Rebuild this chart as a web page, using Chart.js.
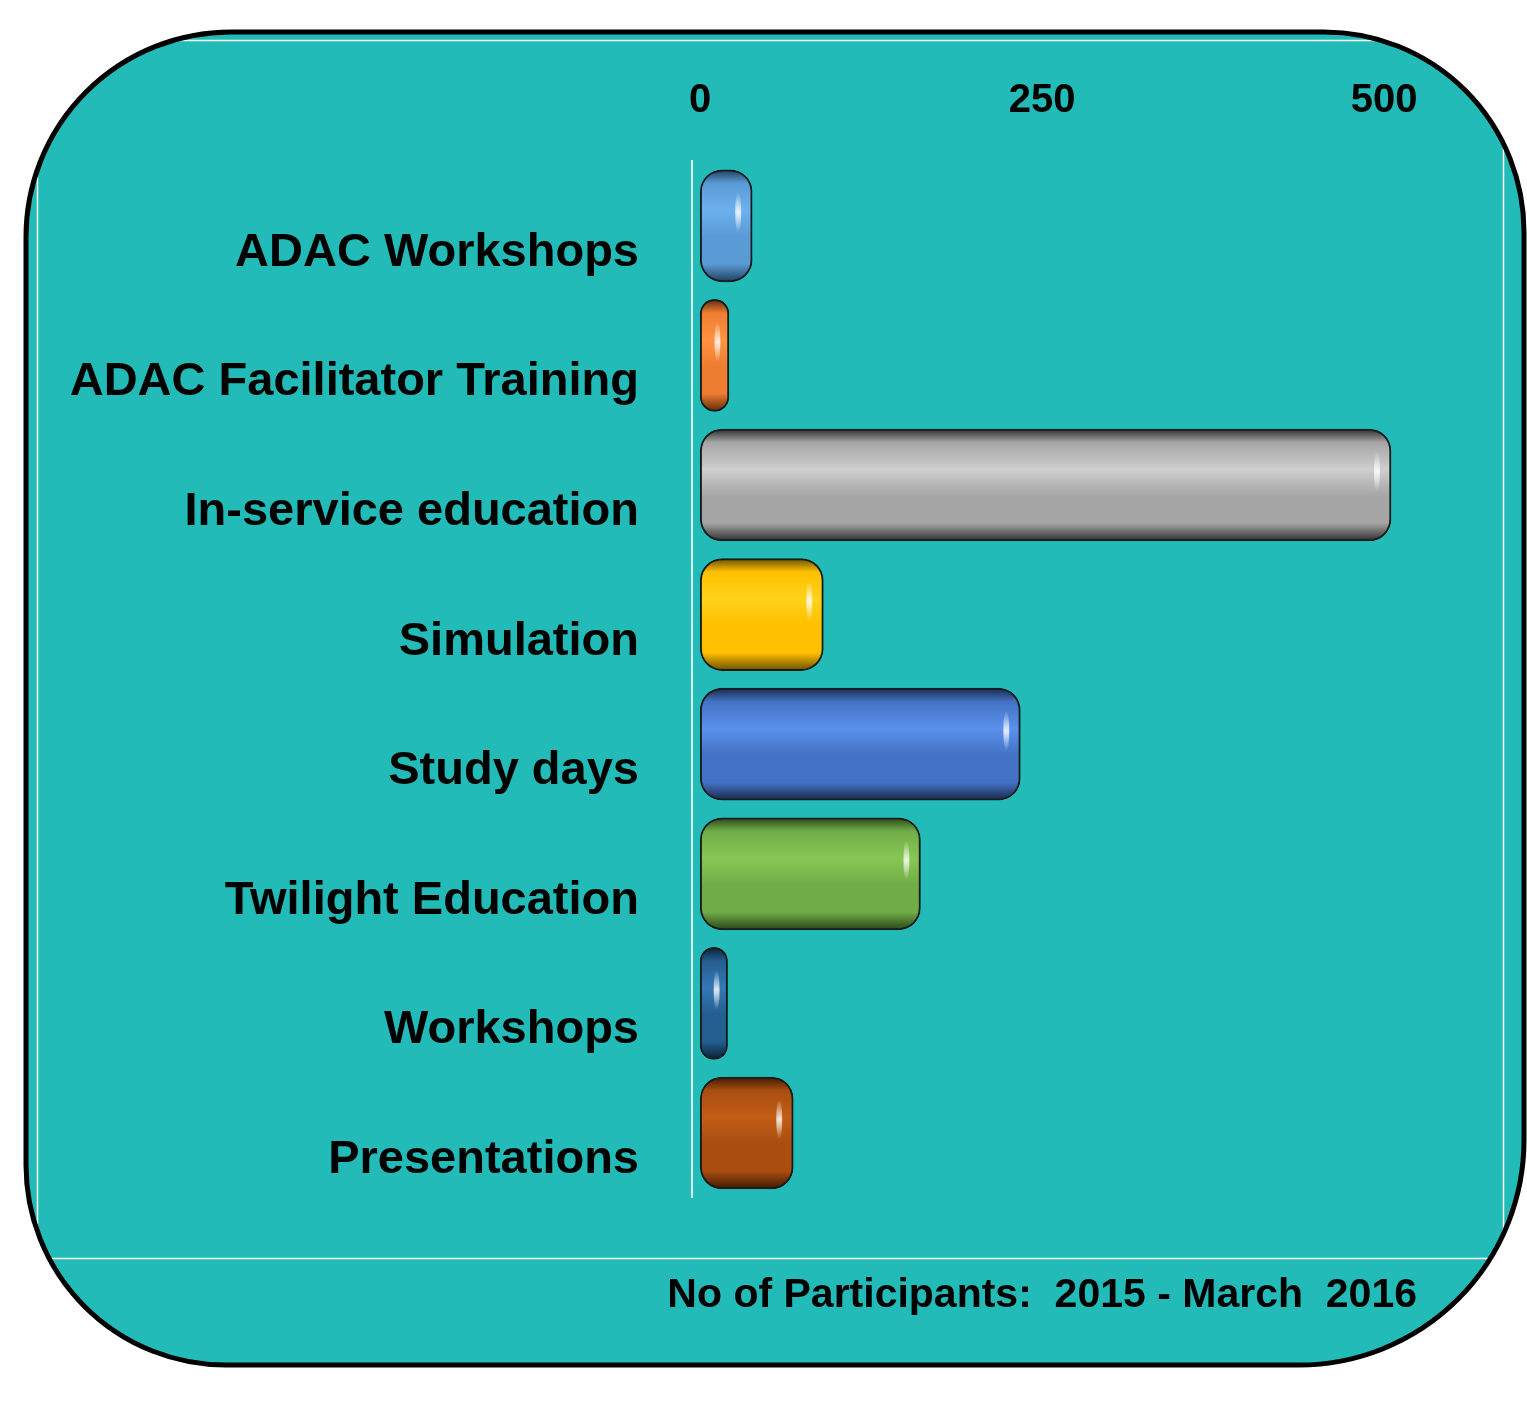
<!DOCTYPE html>
<html>
<head>
<meta charset="utf-8">
<script src="https://cdn.jsdelivr.net/npm/chart.js@4.4.1/dist/chart.umd.min.js"></script>
<style>
  html, body { margin: 0; padding: 0; background: #fff; }
  #wrap { width: 1527px; height: 1401px; }
</style>
</head>
<body>
<div id="wrap"><canvas id="myChart" width="1527" height="1401"></canvas></div>
<script>
const categories = [
  'ADAC Workshops',
  'ADAC Facilitator Training',
  'In-service education',
  'Simulation',
  'Study days',
  'Twilight Education',
  'Workshops',
  'Presentations'
];
const participants = [38, 21, 505, 90, 234, 161, 20, 68];
const xTicks = [0, 250, 500];
const footNote = 'No of Participants:  2015 - March  2016';

// per bar colours: base, highlight band, shadow edge
const barBase  = ['#5b9bd5', '#ed7d31', '#a5a5a5', '#ffc000', '#4472c4', '#70ad47', '#255e91', '#a94d10'];
const barLight = ['#6cb0ee', '#ff9340', '#cecece', '#ffd21a', '#5a91ec', '#88c655', '#3478b5', '#c25d17'];
const barDark  = ['#1d3f5e', '#5e2a08', '#2e2e2e', '#6a4f00', '#17294d', '#2c4619', '#0b1f34', '#3f1904'];

const BAR_THICK = 112;

Chart.defaults.font.family = '"Liberation Sans", Arial, sans-serif';
Chart.defaults.color = '#000';

// teal rounded panel behind the chart
const panel = {
  id: 'panel',
  beforeDraw(chart) {
    const ctx = chart.ctx;
    ctx.save();
    ctx.fillStyle = '#fff';
    ctx.fillRect(0, 0, chart.width, chart.height);
    ctx.beginPath();
    ctx.roundRect(26, 32, 1498, 1333, [205, 200, 225, 200]);
    ctx.fillStyle = '#22bbb8';
    ctx.fill();
    ctx.save();
    ctx.clip();
    ctx.strokeStyle = '#ffffff';
    ctx.lineWidth = 1.5;
    ctx.strokeRect(37.5, 40.5, 1466, 1218);
    ctx.restore();
    ctx.lineWidth = 5;
    ctx.strokeStyle = '#000';
    ctx.stroke();
    ctx.restore();
  }
};

// little glossy streak near the end of each bar
const gloss = {
  id: 'gloss',
  afterDatasetsDraw(chart) {
    const ctx = chart.ctx;
    const meta = chart.getDatasetMeta(0);
    ctx.save();
    meta.data.forEach((bar) => {
      const p = bar.getProps(['x', 'y', 'base', 'height'], true);
      const len = p.x - p.base;
      const gx = p.x - Math.min(14, len * 0.4);
      const gy = p.y - p.height * 0.12;
      const g = ctx.createRadialGradient(gx, gy, 0, gx, gy, 20);
      g.addColorStop(0, 'rgba(255,255,255,0.85)');
      g.addColorStop(1, 'rgba(255,255,255,0)');
      ctx.fillStyle = g;
      ctx.beginPath();
      ctx.ellipse(gx, gy, 3, 20, 0, 0, Math.PI * 2);
      ctx.fill();
    });
    ctx.restore();
  }
};

function barFill(c) {
  const i = c.dataIndex;
  const chart = c.chart;
  if (!chart.chartArea || !chart.scales.y) return barBase[i];
  const y = chart.scales.y.getPixelForValue(i);
  const top = y - BAR_THICK / 2;
  const g = chart.ctx.createLinearGradient(0, top, 0, top + BAR_THICK);
  g.addColorStop(0, barDark[i]);
  g.addColorStop(0.12, barBase[i]);
  g.addColorStop(0.36, barLight[i]);
  g.addColorStop(0.6, barBase[i]);
  g.addColorStop(0.84, barBase[i]);
  g.addColorStop(1, barDark[i]);
  return g;
}

const ctx = document.getElementById('myChart');
const myChart = new Chart(ctx, {
  type: 'bar',
  data: {
    labels: categories,
    datasets: [{
      data: participants,
      backgroundColor: barFill,
      borderColor: '#141c1c',
      borderWidth: 2,
      borderSkipped: false,
      borderRadius: 22,
      barThickness: BAR_THICK
    }]
  },
  options: {
    indexAxis: 'y',
    responsive: false,
    animation: false,
    devicePixelRatio: 1,
    layout: {
      padding: { top: 41, right: 110, bottom: 81, left: 0 }
    },
    plugins: {
      legend: { display: false },
      tooltip: { enabled: false },
      title: {
        display: true,
        position: 'bottom',
        align: 'end',
        text: footNote,
        color: '#000',
        font: { size: 41, weight: 'bold' },
        padding: { top: 73, bottom: 0 }
      }
    },
    scales: {
      x: {
        position: 'top',
        min: -6,
        max: 524,
        afterBuildTicks: (scale) => { scale.ticks = xTicks.map(v => ({ value: v })); },
        grid: { display: false, drawTicks: false },
        border: { display: false },
        ticks: {
          padding: 36,
          color: '#000',
          font: { size: 40, weight: 'bold' }
        }
      },
      y: {
        afterFit: (scale) => { scale.width = 692; },
        grid: { display: false, drawTicks: false },
        border: { display: true, color: '#d8eeec', width: 2 },
        ticks: {
          padding: 53,
          labelOffset: 27,
          color: '#000',
          font: { size: 47, weight: 'bold' }
        }
      }
    }
  },
  plugins: [panel, gloss]
});
</script>
</body>
</html>
